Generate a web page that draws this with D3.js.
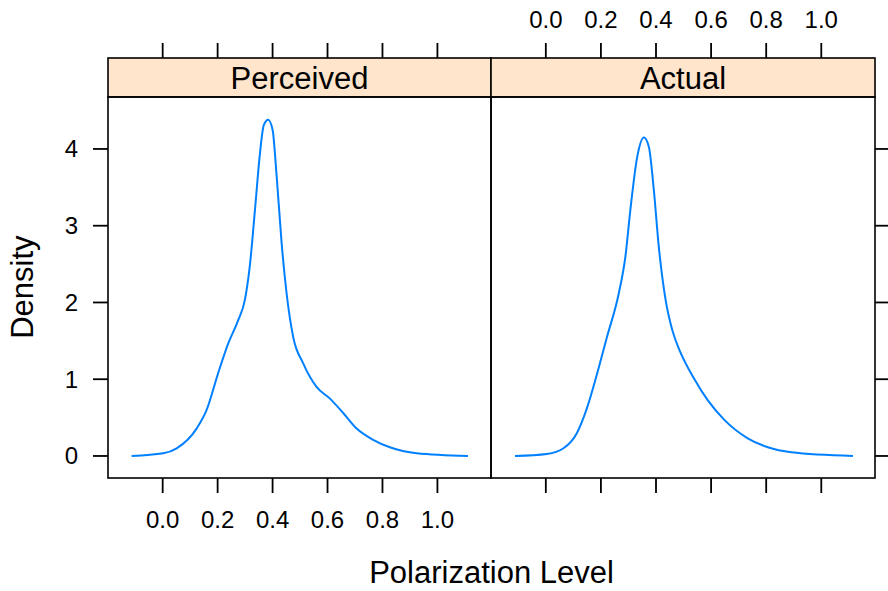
<!DOCTYPE html>
<html>
<head>
<meta charset="utf-8">
<script src="https://cdn.jsdelivr.net/npm/d3@7"></script>
<style>
  body { margin: 0; background: #fff; }
  text { font-family: "Liberation Sans", Arial, Helvetica, sans-serif; fill: #000; }
</style>
</head>
<body>
<svg id="chart" width="888" height="591"></svg>
<script>
// panel names, shown in the strips
var panels = ["Perceived", "Actual"];

// density curves
var perceivedX = [-0.113, 0.002, 0.051, 0.124, 0.16, 0.202, 0.239, 0.275, 0.299, 0.317, 0.336, 0.354, 0.368, 0.384, 0.40, 0.415, 0.433, 0.451, 0.475, 0.511, 0.56, 0.608, 0.657, 0.705, 0.766, 0.827, 0.924, 1.111];
var perceivedY = [0, 0.035, 0.10, 0.36, 0.60, 1.08, 1.47, 1.77, 2.03, 2.47, 3.21, 3.94, 4.31, 4.38, 4.25, 3.64, 2.77, 2.12, 1.55, 1.21, 0.90, 0.75, 0.56, 0.36, 0.21, 0.113, 0.035, 0];

var actualX = [-0.112, 0.004, 0.064, 0.113, 0.149, 0.186, 0.222, 0.265, 0.289, 0.307, 0.332, 0.356, 0.374, 0.392, 0.41, 0.435, 0.459, 0.49, 0.538, 0.587, 0.648, 0.733, 0.806, 0.891, 1.115];
var actualY = [0, 0.026, 0.10, 0.30, 0.62, 1.07, 1.55, 2.12, 2.60, 3.21, 3.90, 4.15, 4.03, 3.47, 2.73, 2.03, 1.64, 1.34, 1.01, 0.73, 0.47, 0.23, 0.113, 0.048, 0];

var xTicks = [0, 0.2, 0.4, 0.6, 0.8, 1.0];
var yTicks = [0, 1, 2, 3, 4];

var svg = d3.select("#chart");

var left = 108, mid = 491, right = 875;
var stripTop = 58, stripBot = 97, bottom = 478;
var tickLen = 15;

var y = d3.scaleLinear().domain([-0.287, 4.677]).range([bottom, stripBot]);
var xs = [
  d3.scaleLinear().domain([-0.199, 1.195]).range([left, mid]),
  d3.scaleLinear().domain([-0.199, 1.195]).range([mid, right])
];

var series = [
  d3.zip(perceivedX, perceivedY),
  d3.zip(actualX, actualY)
];

var line = function(x) {
  return d3.line()
    .x(function(d) { return x(d[0]); })
    .y(function(d) { return y(d[1]); })
    .curve(d3.curveMonotoneX);
};

panels.forEach(function(name, i) {
  var x = xs[i];
  var x0 = x.range()[0], x1 = x.range()[1];
  var g = svg.append("g");

  // strip
  g.append("rect")
    .attr("x", x0).attr("y", stripTop)
    .attr("width", x1 - x0).attr("height", stripBot - stripTop)
    .attr("fill", "#ffe5cc").attr("stroke", "#000").attr("stroke-width", 1.6);
  g.append("text")
    .attr("x", (x0 + x1) / 2).attr("y", stripBot - 8)
    .attr("text-anchor", "middle")
    .style("font-size", "31px")
    .text(name);

  // curve
  g.append("path")
    .datum(series[i])
    .attr("d", line(x))
    .attr("fill", "none")
    .attr("stroke", "#0080ff")
    .attr("stroke-width", 2);

  // panel box
  g.append("rect")
    .attr("x", x0).attr("y", stripBot)
    .attr("width", x1 - x0).attr("height", bottom - stripBot)
    .attr("fill", "none").attr("stroke", "#000").attr("stroke-width", 1.6);

  // ticks, alternating sides like lattice
  var ticks = g.append("g").attr("stroke", "#000").attr("stroke-width", 1.8);
  ticks.selectAll(".xb").data(xTicks).enter().append("line")
    .attr("x1", x).attr("x2", x)
    .attr("y1", bottom).attr("y2", bottom + tickLen);
  ticks.selectAll(".xt").data(xTicks).enter().append("line")
    .attr("x1", x).attr("x2", x)
    .attr("y1", stripTop).attr("y2", stripTop - tickLen);

  if (i == 0) {
    g.selectAll(".xl").data(xTicks).enter().append("text")
      .attr("x", x).attr("y", 528)
      .attr("text-anchor", "middle")
      .style("font-size", "24px")
      .text(function(d) { return d3.format(".1f")(d); });
    ticks.selectAll(".yl").data(yTicks).enter().append("line")
      .attr("x1", x0 - tickLen).attr("x2", x0)
      .attr("y1", y).attr("y2", y);
    g.selectAll(".ylab").data(yTicks).enter().append("text")
      .attr("x", 78).attr("y", function(d) { return y(d) + 8.5; })
      .attr("text-anchor", "end")
      .style("font-size", "24px")
      .text(function(d) { return d; });
  } else {
    g.selectAll(".xl").data(xTicks).enter().append("text")
      .attr("x", x).attr("y", 28)
      .attr("text-anchor", "middle")
      .style("font-size", "24px")
      .text(function(d) { return d3.format(".1f")(d); });
    ticks.selectAll(".yr").data(yTicks).enter().append("line")
      .attr("x1", x1).attr("x2", x1 + tickLen)
      .attr("y1", y).attr("y2", y);
  }
});

// axis titles
svg.append("text")
  .attr("x", (left + right) / 2).attr("y", 583)
  .attr("text-anchor", "middle")
  .style("font-size", "31px")
  .text("Polarization Level");

svg.append("text")
  .attr("transform", "translate(33," + (y(2.2)) + ") rotate(-90)")
  .attr("text-anchor", "middle")
  .style("font-size", "31px")
  .text("Density");
</script>
</body>
</html>
